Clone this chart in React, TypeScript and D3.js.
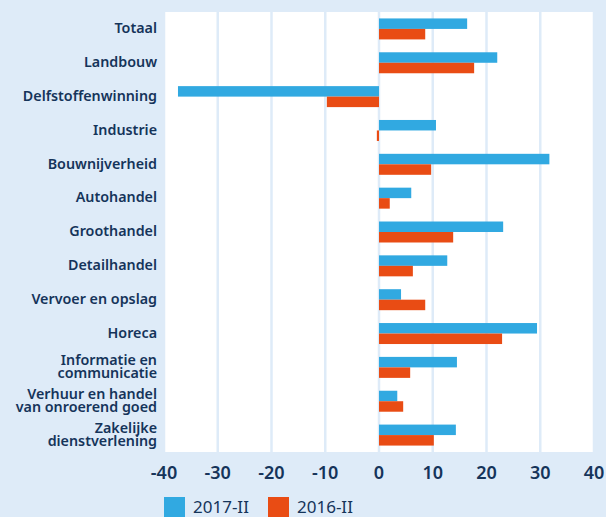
import React, { useEffect, useRef } from "react";
import * as d3 from "d3";

// sectors, top to bottom
const categories = [
  "Totaal",
  "Landbouw",
  "Delfstoffenwinning",
  "Industrie",
  "Bouwnijverheid",
  "Autohandel",
  "Groothandel",
  "Detailhandel",
  "Vervoer en opslag",
  "Horeca",
  "Informatie en\ncommunicatie",
  "Verhuur en handel\nvan onroerend goed",
  "Zakelijke\ndienstverlening",
];

const series2017 = [16.4, 22.0, -37.4, 10.6, 31.7, 6.0, 23.1, 12.7, 4.1, 29.4, 14.5, 3.4, 14.3];
const series2016 = [8.6, 17.7, -9.7, -0.4, 9.7, 2.0, 13.8, 6.3, 8.6, 22.9, 5.8, 4.5, 10.2];

const seriesNames = ["2017-II", "2016-II"];
const xTicks = [-40, -30, -20, -10, 0, 10, 20, 30, 40];

const W = 606;
const H = 517;
const BG = "#deebf8";
const BLUE = "#31a9e1";
const ORANGE = "#e94c14";
const TEXT = "#15345a";
const FONT = "'Noto Sans', 'Open Sans', sans-serif";

export default function App() {
  const ref = useRef<SVGSVGElement>(null);

  useEffect(() => {
    const svg = d3.select(ref.current);
    svg.selectAll("*").remove();

    const margin = { top: 12, right: 12, bottom: 65, left: 164 };
    const innerW = W - margin.left - margin.right;
    const innerH = H - margin.top - margin.bottom;

    svg.append("rect").attr("width", W).attr("height", H).attr("fill", BG);

    const g = svg
      .append("g")
      .attr("transform", "translate(" + margin.left + "," + margin.top + ")");

    const x = d3.scaleLinear().domain([-40, 40]).range([0, innerW]);
    const y = d3
      .scaleBand()
      .domain(categories)
      .range([0, innerH])
      .paddingInner(0.38)
      .paddingOuter(0.19);
    const sub = d3.scaleBand().domain(seriesNames).range([0, y.bandwidth()]);

    // white plot area
    g.append("rect").attr("width", innerW).attr("height", innerH).attr("fill", "#fff");

    // gridlines
    g.selectAll(".grid")
      .data(xTicks)
      .enter()
      .append("line")
      .attr("x1", (d) => x(d))
      .attr("x2", (d) => x(d))
      .attr("y1", 0)
      .attr("y2", innerH)
      .attr("stroke", BG)
      .attr("stroke-width", 2.5);

    // bars
    const data = [series2017, series2016];
    const colors = [BLUE, ORANGE];
    data.forEach((vals, si) => {
      g.selectAll(".bar" + si)
        .data(vals)
        .enter()
        .append("rect")
        .attr("x", (d) => x(Math.min(0, d)))
        .attr("y", (d, i) => y(categories[i])! + sub(seriesNames[si])!)
        .attr("width", (d) => Math.abs(x(d) - x(0)))
        .attr("height", sub.bandwidth())
        .attr("fill", colors[si]);
    });

    // category labels
    const labels = g
      .selectAll(".cat")
      .data(categories)
      .enter()
      .append("text")
      .attr("x", -7)
      .attr("text-anchor", "end")
      .attr("font-family", FONT)
      .attr("font-weight", 600)
      .attr("font-size", 14.3)
      .attr("fill", TEXT);

    labels.each(function (d) {
      const lines = d.split("\n");
      const cy = y(d)! + y.bandwidth() / 2;
      const lh = 13.5;
      const top = cy - ((lines.length - 1) * lh) / 2;
      d3.select(this)
        .selectAll("tspan")
        .data(lines)
        .enter()
        .append("tspan")
        .attr("x", -7)
        .attr("y", (l, i) => top + i * lh)
        .attr("dy", "0.3em")
        .text((l) => l);
    });

    // x axis labels
    g.selectAll(".tick")
      .data(xTicks)
      .enter()
      .append("text")
      .attr("x", (d) => x(d))
      .attr("y", innerH + 27)
      .attr("text-anchor", "middle")
      .attr("font-family", FONT)
      .attr("font-weight", 600)
      .attr("font-size", 18)
      .attr("fill", TEXT)
      .text((d) => d);

    // legend
    const leg = svg.append("g").attr("transform", "translate(164,497)");
    const offsets = [0, 104];
    seriesNames.forEach((name, i) => {
      leg.append("rect")
        .attr("x", offsets[i])
        .attr("y", 0)
        .attr("width", 21)
        .attr("height", 21)
        .attr("fill", colors[i]);
      leg.append("text")
        .attr("x", offsets[i] + 29)
        .attr("y", 16)
        .attr("font-family", FONT)
        .attr("font-size", 17)
        .attr("fill", TEXT)
        .text(name);
    });
  }, []);

  return (
    <div style={{ position: "absolute", left: 0, top: 0 }}>
      <svg ref={ref} width={W} height={H} style={{ display: "block" }} />
    </div>
  );
}
